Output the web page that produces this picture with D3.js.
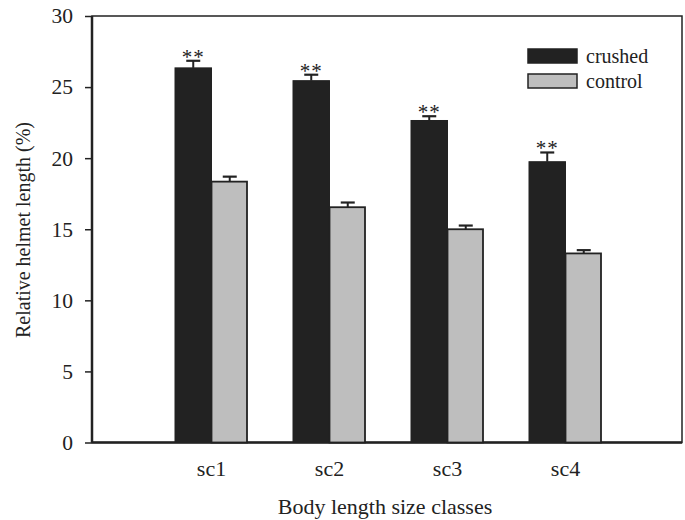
<!DOCTYPE html>
<html><head><meta charset="utf-8">
<script src="https://cdn.jsdelivr.net/npm/d3@7"></script>
<style>body{margin:0;background:#fff}svg{display:block}text{font-family:"Liberation Serif","Times New Roman",serif;fill:#222}</style>
</head><body><svg id="c" width="685" height="520"></svg>
<script>
const categories = ["sc1","sc2","sc3","sc4"];
const crushed = [26.35, 25.45, 22.65, 19.75];
const crushedErr = [0.5, 0.42, 0.3, 0.65];
const control = [18.35, 16.55, 15.0, 13.3];
const controlErr = [0.35, 0.33, 0.26, 0.23];
const significance = ["**","**","**","**"];
const yTicks = [0,5,10,15,20,25,30];
const seriesNames = ["crushed","control"];

const svg = d3.select("#c");
const pL = 92, pR = 682, pT = 16, pB = 442.5;
const x = d3.scaleLinear().domain([0,5]).range([93.5, 683.5]);
const y = d3.scaleLinear().domain([0,30]).range([pB, pT]);
const bw = 36.5;
const colors = {crushed:"#222222", control:"#bebebe"};

// frame
svg.append("rect").attr("x",pL).attr("y",pT).attr("width",pR-pL).attr("height",pB-pT)
  .attr("fill","none").attr("stroke","#222").attr("stroke-width",1.5);
svg.append("line").attr("x1",pL).attr("x2",pL).attr("y1",pT).attr("y2",pB).attr("stroke","#222").attr("stroke-width",2.5);
svg.append("line").attr("x1",pL).attr("x2",pR).attr("y1",pB).attr("y2",pB).attr("stroke","#222").attr("stroke-width",2.5);

// y axis
const yAxis = d3.axisLeft(y).tickValues(yTicks).tickSize(7).tickPadding(12).tickFormat(d3.format("d"));
const ya = svg.append("g").attr("transform",`translate(${pL},0)`).call(yAxis);
ya.select(".domain").remove();
ya.selectAll("line").attr("stroke","#222").attr("stroke-width",1.5);
ya.selectAll("text").style("font-size","21.5px").style("font-family",'"Liberation Serif",serif').attr("fill","#222");

const data = categories.map((c,i)=>({c,i,cr:crushed[i],cre:crushedErr[i],co:control[i],coe:controlErr[i],sig:significance[i]}));

const g = svg.append("g");
// bars
g.selectAll(".cr").data(data).join("rect").attr("x",d=>x(d.i+1)-bw).attr("width",bw)
  .attr("y",d=>y(d.cr)).attr("height",d=>y(0)-y(d.cr)).attr("fill",colors.crushed).attr("stroke","#222").attr("stroke-width",1);
g.selectAll(".co").data(data).join("rect").attr("x",d=>x(d.i+1)).attr("width",bw-1)
  .attr("y",d=>y(d.co)).attr("height",d=>y(0)-y(d.co)).attr("fill",colors.control).attr("stroke","#222").attr("stroke-width",1.8);

// error bars
function err(sel, getX, getV, getE){
  sel.append("line").attr("x1",getX).attr("x2",getX).attr("y1",d=>y(getV(d))).attr("y2",d=>y(getV(d)+getE(d))).attr("stroke","#222").attr("stroke-width",2);
  sel.append("line").attr("x1",d=>getX(d)-7).attr("x2",d=>getX(d)+7).attr("y1",d=>y(getV(d)+getE(d))).attr("y2",d=>y(getV(d)+getE(d))).attr("stroke","#222").attr("stroke-width",2.2);
}
const eg = g.selectAll(".e").data(data).join("g");
err(eg, d=>x(d.i+1)-bw/2, d=>d.cr, d=>d.cre);
err(eg, d=>x(d.i+1)+bw/2, d=>d.co, d=>d.coe);

// stars
g.selectAll(".s").data(data).join("text").attr("x",d=>x(d.i+1)-bw/2).attr("y",d=>y(d.cr+d.cre)+3)
  .attr("text-anchor","middle").style("font-size","21px").style("letter-spacing","1px").text(d=>d.sig);

// category labels
svg.selectAll(".cl").data(data).join("text").attr("x",d=>x(d.i+1)).attr("y",476)
  .attr("text-anchor","middle").style("font-size","22px").text(d=>d.c);

// axis titles
svg.append("text").attr("x",385).attr("y",514).attr("text-anchor","middle").style("font-size","22px").text("Body length size classes");
svg.append("text").attr("transform","translate(30,230) rotate(-90)").attr("text-anchor","middle").style("font-size","20px").text("Relative helmet length (%)");

// legend
const lg = svg.append("g");
seriesNames.forEach((s,i)=>{
  lg.append("rect").attr("x",528).attr("y",49+i*25).attr("width",49).attr("height",14)
    .attr("fill",colors[s]).attr("stroke","#222").attr("stroke-width",1.5);
  lg.append("text").attr("x",586).attr("y",63+i*25).style("font-size","20px").text(s);
});
</script></body></html>
